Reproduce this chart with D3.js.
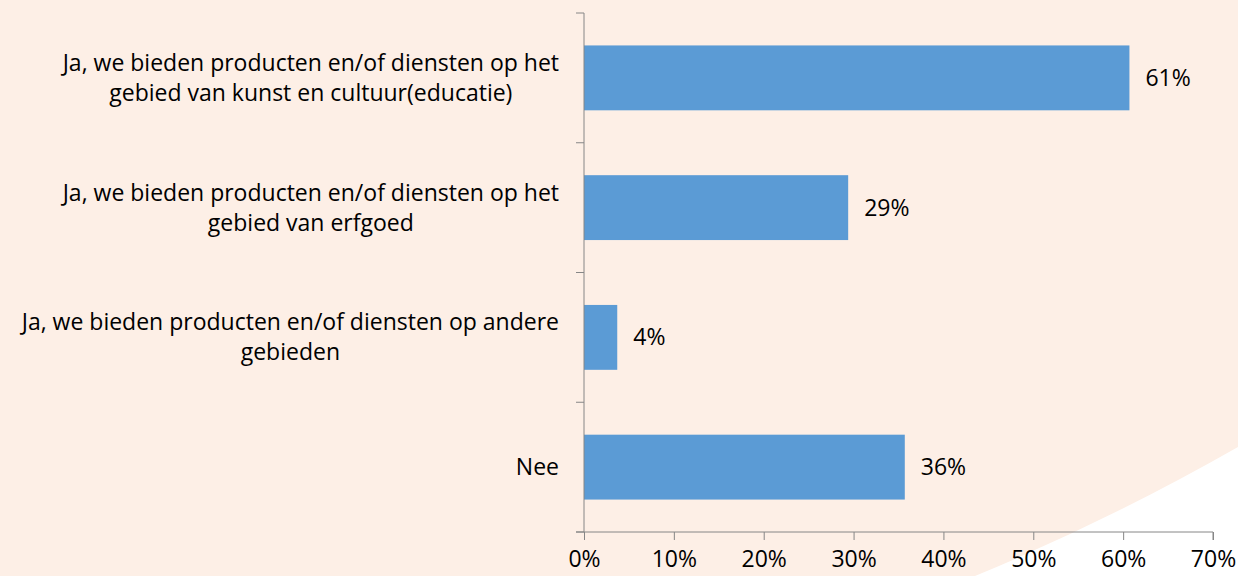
<!DOCTYPE html>
<html>
<head>
<meta charset="utf-8">
<script src="https://cdn.jsdelivr.net/npm/d3@7"></script>
<style>
  html, body { margin: 0; padding: 0; background: #fff; }
  svg { display: block; }
</style>
</head>
<body>
<svg id="chart"></svg>
<script>
// data
const categories = [
  ["Ja, we bieden producten en/of diensten op het", "gebied van kunst en cultuur(educatie)"],
  ["Ja, we bieden producten en/of diensten op het", "gebied van erfgoed"],
  ["Ja, we bieden producten en/of diensten op andere", "gebieden"],
  ["Nee"]
]
const values = [60.7, 29.4, 3.7, 35.7]
const xTicks = [0, 10, 20, 30, 40, 50, 60, 70]

const width = 1238
const height = 576
const margin = {top: 13, right: 25, bottom: 44, left: 584}
const fontFamily = "'Open Sans', sans-serif"
const fontSize = 23
const axisColor = "#868686"

const svg = d3.select("#chart")
  .attr("width", width)
  .attr("height", height)
  .attr("viewBox", [0, 0, width, height])

// background: peach with white curve in the bottom right
svg.append("rect")
  .attr("width", width)
  .attr("height", height)
  .attr("fill", "#fdefe6")
svg.append("path")
  .attr("d", `M975,${height} Q1110,520 ${width},447 L${width},${height} Z`)
  .attr("fill", "#ffffff")

const x = d3.scaleLinear()
  .domain([0, 70])
  .range([margin.left, width - margin.right])

const y = d3.scaleBand()
  .domain(d3.range(categories.length))
  .range([margin.top, height - margin.bottom])
  .paddingInner(0.5)
  .paddingOuter(0.25)

// bars
svg.append("g")
  .selectAll("rect")
  .data(values)
  .join("rect")
    .attr("x", x(0))
    .attr("y", (d, i) => y(i))
    .attr("width", d => x(d) - x(0))
    .attr("height", y.bandwidth())
    .attr("fill", "#5b9bd5")

// value labels
svg.append("g")
  .selectAll("text")
  .data(values)
  .join("text")
    .attr("x", d => x(d) + 16)
    .attr("y", (d, i) => y(i) + y.bandwidth() / 2)
    .attr("dy", "0.35em")
    .attr("font-family", fontFamily)
    .attr("font-size", fontSize)
    .attr("fill", "#000")
    .text(d => Math.round(d) + "%")

// x axis
const xAxis = svg.append("g")
  .attr("transform", `translate(0,${height - margin.bottom})`)
  .call(d3.axisBottom(x).tickValues(xTicks).tickFormat(d => d + "%").tickSizeOuter(8).tickSize(8))
xAxis.select(".domain").attr("stroke", axisColor).attr("d", `M${x(0) - 8},0H${x(70)}V8`)
xAxis.selectAll(".tick line").attr("stroke", axisColor)
xAxis.selectAll(".tick text")
  .attr("font-family", fontFamily)
  .attr("font-size", fontSize)
  .attr("fill", "#000")
  .attr("y", 19)

// y axis: line with ticks at band boundaries
const bandStep = y.step()
const yBounds = d3.range(categories.length + 1).map(i => margin.top + i * bandStep)
const yAxis = svg.append("g")
yAxis.append("line")
  .attr("x1", x(0)).attr("x2", x(0))
  .attr("y1", margin.top).attr("y2", height - margin.bottom)
  .attr("stroke", axisColor)
yAxis.selectAll("line.tick")
  .data(yBounds)
  .join("line")
    .attr("class", "tick")
    .attr("x1", x(0) - 8).attr("x2", x(0))
    .attr("y1", d => d).attr("y2", d => d)
    .attr("stroke", axisColor)

// category labels: block right aligned, lines centred within block
const labels = svg.append("g")
categories.forEach((lines, i) => {
  const g = labels.append("g")
  const cy = y(i) + y.bandwidth() / 2
  const lh = 30
  const texts = lines.map((t, j) => g.append("text")
    .attr("y", cy + (j - (lines.length - 1) / 2) * lh)
    .attr("dy", "0.35em")
    .attr("font-family", fontFamily)
    .attr("font-size", fontSize)
    .attr("text-anchor", "middle")
    .attr("fill", "#000")
    .text(t))
  const maxW = d3.max(texts, t => t.node().getComputedTextLength())
  texts.forEach(t => t.attr("x", 559 - maxW / 2))
})
</script>
</body>
</html>
